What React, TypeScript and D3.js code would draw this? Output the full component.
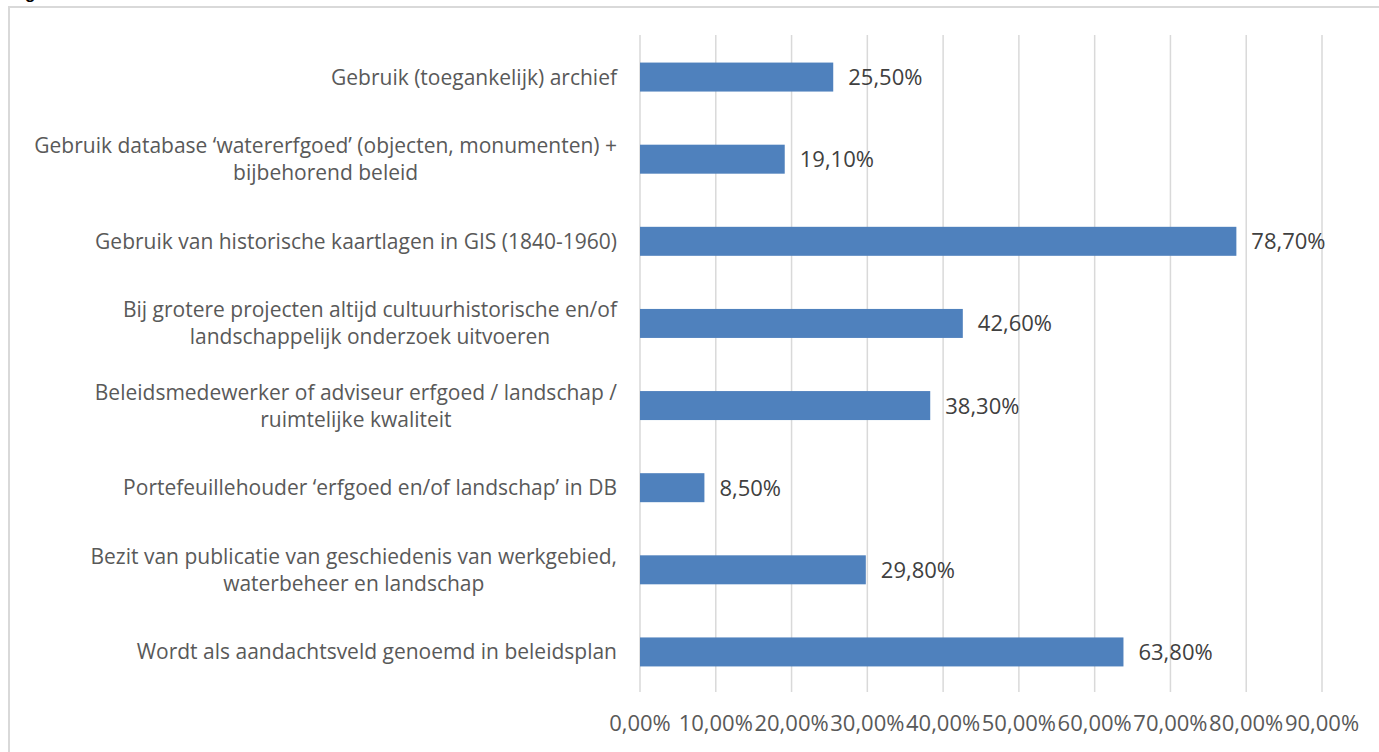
import React from 'react';
import * as d3 from 'd3';

const categories: string[][] = [
  ['Gebruik (toegankelijk) archief'],
  ['Gebruik database \u2018watererfgoed\u2019 (objecten, monumenten) +', 'bijbehorend beleid'],
  ['Gebruik van historische kaartlagen in GIS (1840-1960)'],
  ['Bij grotere projecten altijd cultuurhistorische en/of', 'landschappelijk onderzoek uitvoeren'],
  ['Beleidsmedewerker of adviseur erfgoed / landschap /', 'ruimtelijke kwaliteit'],
  ['Portefeuillehouder \u2018erfgoed en/of landschap\u2019 in DB'],
  ['Bezit van publicatie van geschiedenis van werkgebied,', 'waterbeheer en landschap'],
  ['Wordt als aandachtsveld genoemd in beleidsplan'],
];
const values = [25.5, 19.1, 78.7, 42.6, 38.3, 8.5, 29.8, 63.8];
const ticks = [0, 10, 20, 30, 40, 50, 60, 70, 80, 90];

const W = 1379;
const H = 752;
const FONT = '"Open Sans", sans-serif';
const LABEL_SIZE = 21;

const fmt = (v: number) => v.toFixed(2).replace('.', ',') + '%';

// measure label widths so multi-line labels can be centred in a right-aligned block
const ctx = document.createElement('canvas').getContext('2d')!;
const textWidth = (s: string) => {
  ctx.font = `${LABEL_SIZE}px "Open Sans", sans-serif`;
  return ctx.measureText(s).width;
};

export default function App() {
  const x = d3.scaleLinear().domain([0, 90]).range([640, 1322]);
  const ids = categories.map((_, i) => String(i));
  const y = d3.scaleBand().domain(ids).range([36, 693]).paddingInner(0.647).paddingOuter(0.3235);
  const bw = y.bandwidth();

  return (
    <svg width={W} height={H} style={{ position: 'absolute', left: 0, top: 0, background: '#fff' }}>
      <text x={10} y={-1} fontFamily="Arial, sans-serif" fontWeight="bold" fontSize={17} fill="#000">
        Figuur 8: Gebruik van instrumenten
      </text>
      <rect x={9} y={7} width={W + 20} height={H + 20} fill="none" stroke="#d9d9d9" strokeWidth={2} />
      {ticks.map((t) => (
        <line key={t} x1={x(t)} x2={x(t)} y1={35} y2={692} stroke="#d9d9d9" strokeWidth={1.5} />
      ))}
      {values.map((v, i) => {
        const y0 = y(String(i))!;
        return (
          <g key={i}>
            <rect x={x(0)} y={y0} width={x(v) - x(0)} height={bw} fill="#4f81bd" />
            <text x={x(v) + 15} y={y0 + bw / 2 + 8} fontFamily={FONT} fontSize={22} fill="#404040">
              {fmt(v)}
            </text>
          </g>
        );
      })}
      {categories.map((lines, i) => {
        const cy = y(String(i))! + bw / 2;
        const lh = 27;
        const top = cy - ((lines.length - 1) * lh) / 2 + 7.5;
        const blockW = d3.max(lines, textWidth)!;
        const cx = 617 - blockW / 2;
        return (
          <g key={i}>
            {lines.map((l, j) => (
              <text key={j} x={cx} y={top + j * lh} fontFamily={FONT} fontSize={LABEL_SIZE} fill="#595959"
                textAnchor="middle">
                {l}
              </text>
            ))}
          </g>
        );
      })}
      {ticks.map((t) => (
        <text key={t} x={x(t)} y={731} fontFamily={FONT} fontSize={22} fill="#595959" textAnchor="middle">
          {fmt(t)}
        </text>
      ))}
    </svg>
  );
}
